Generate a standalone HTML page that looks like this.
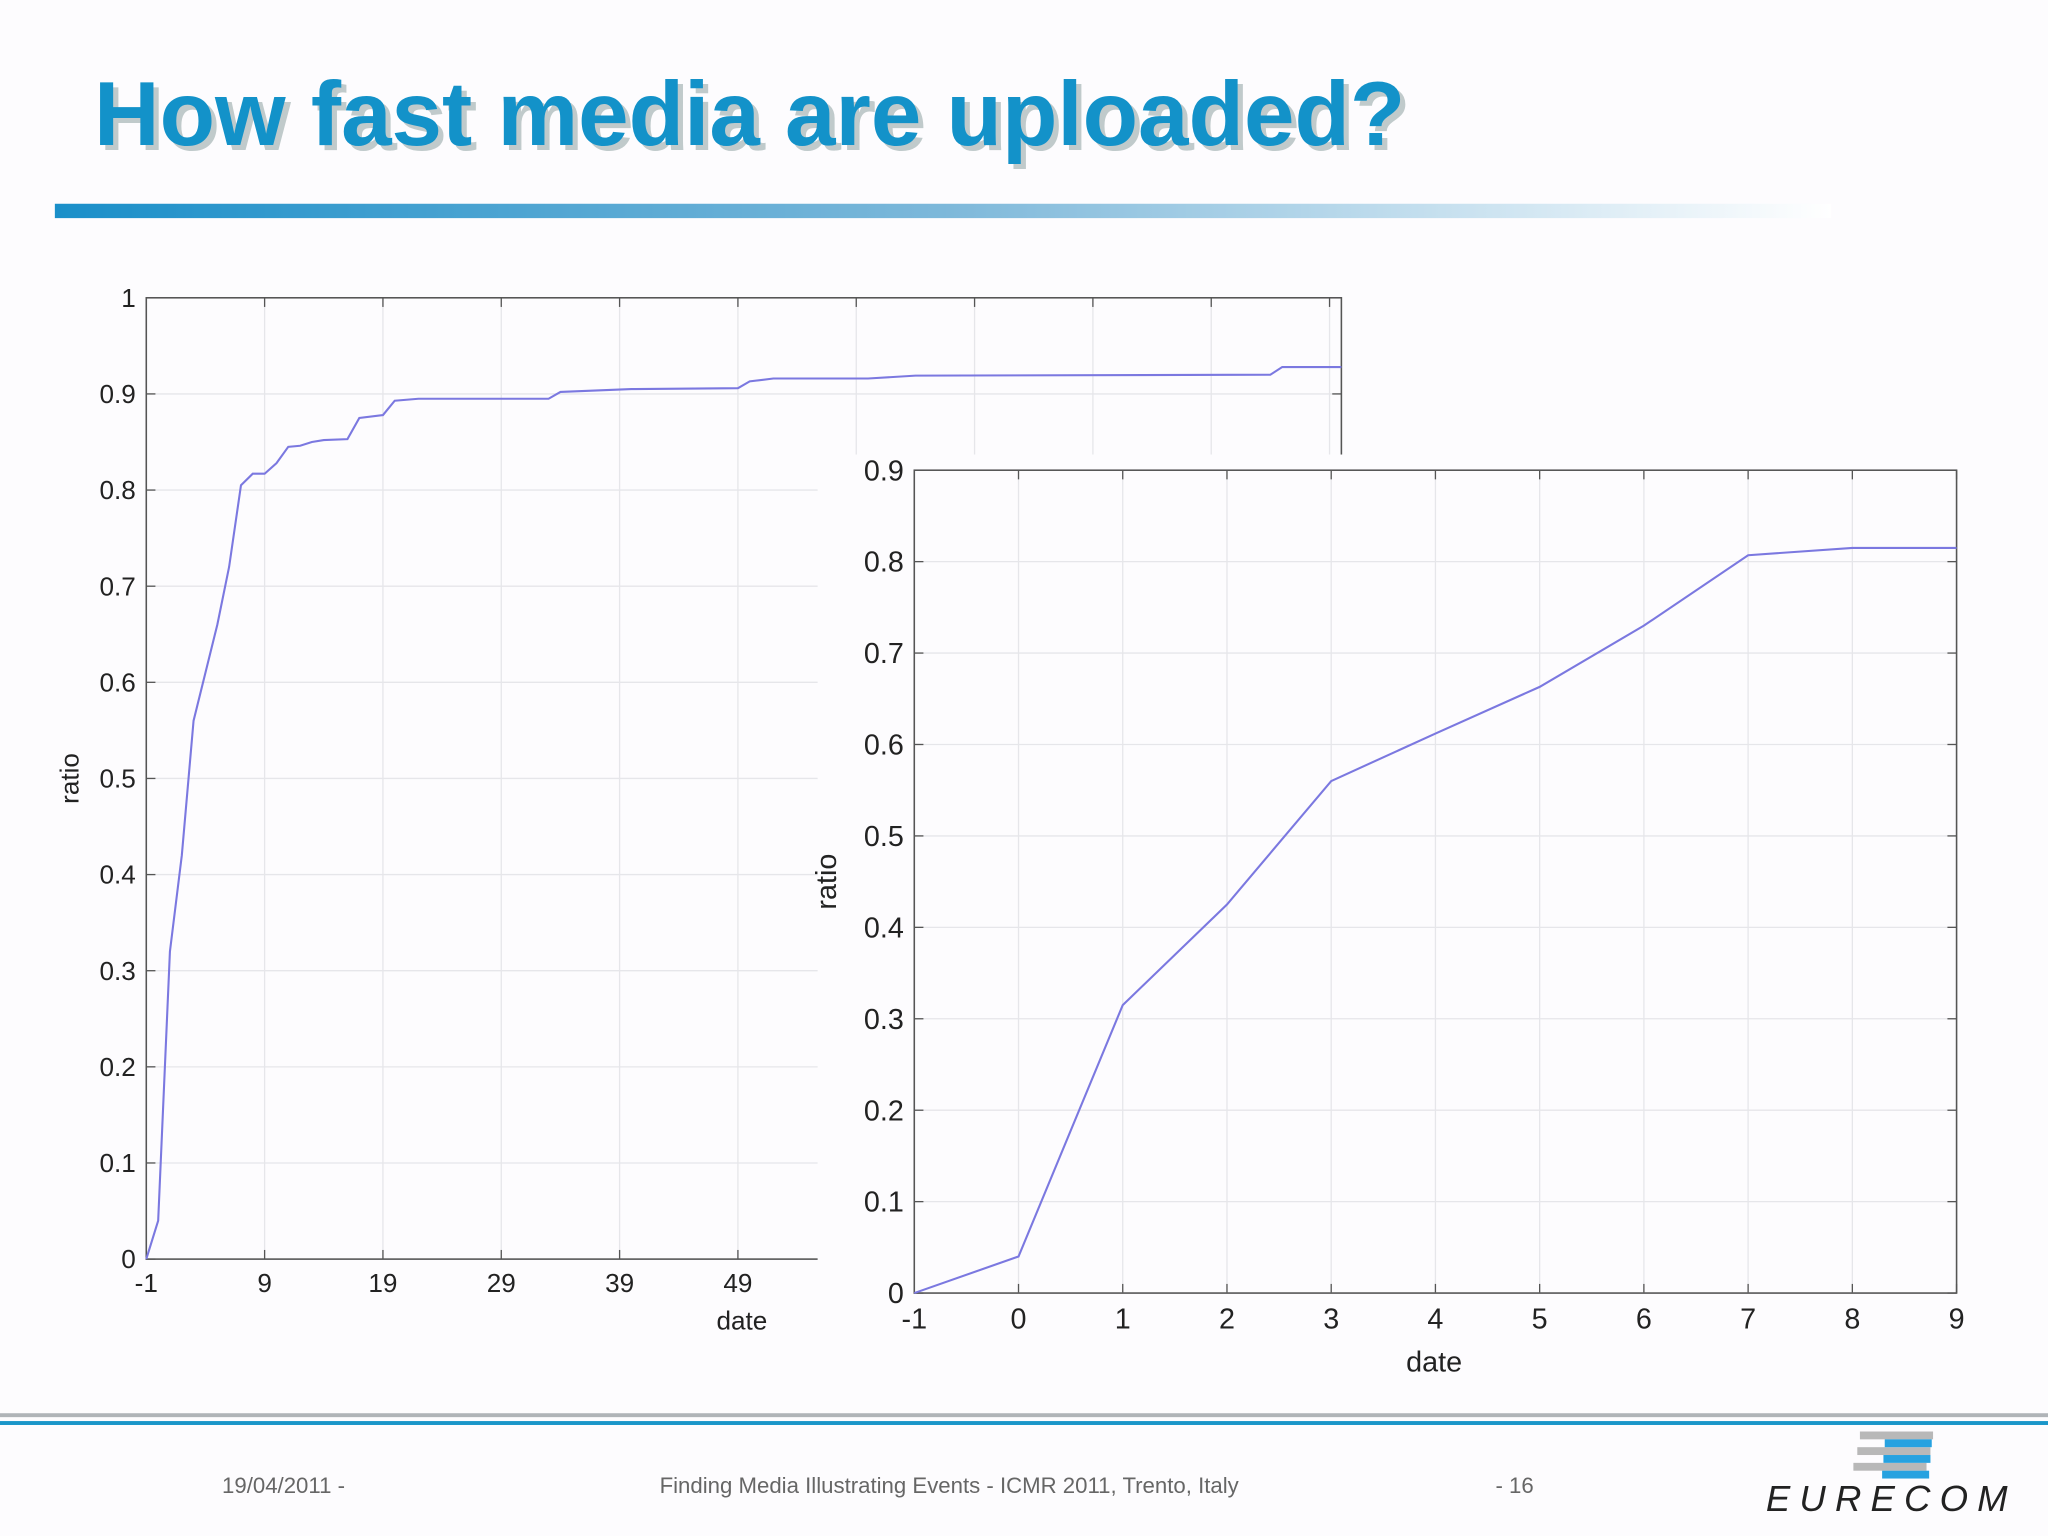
<!DOCTYPE html>
<html><head><meta charset="utf-8"><style>
html,body{margin:0;padding:0;background:#fff;}
svg{display:block;font-family:"Liberation Sans",Arial,sans-serif;}
</style></head><body>
<svg id="s" width="2048" height="1536" viewBox="0 0 1568 1176">
<defs>
<linearGradient id="g" x1="0" x2="1"><stop offset="0" stop-color="#1a8fc9"/><stop offset="0.5" stop-color="#7db8da"/><stop offset="1" stop-color="#ffffff"/></linearGradient>
</defs>
<rect width="1568" height="1176" fill="#fdfcfe"/>
<text x="76" y="115" font-size="69.5" font-weight="bold" fill="#9aa" opacity="0.6">How fast media are uploaded?</text>
<text x="72" y="111" font-size="69.5" font-weight="bold" fill="#1392c9">How fast media are uploaded?</text>
<rect x="42" y="156" width="1360" height="11" fill="url(#g)"/>
<g id="left"></g>
<rect x="626" y="348" width="942" height="712" fill="#fdfcfe"/>
<g id="right"></g>
<rect x="0" y="1082" width="1568" height="3" fill="#b0b4b8"/>
<rect x="0" y="1088" width="1568" height="3" fill="#1a96c9"/>
<g font-size="17" fill="#666">
<text x="170" y="1143">19/04/2011 -</text>
<text x="505" y="1143">Finding Media Illustrating Events - ICMR 2011, Trento, Italy</text>
<text x="1145" y="1143">- 16</text>
</g>
<g>
<rect x="1424" y="1096" width="56" height="6" fill="#b8b8b8"/><rect x="1422" y="1108" width="56" height="6" fill="#b8b8b8"/><rect x="1419" y="1120" width="56" height="6" fill="#b8b8b8"/>
<rect x="1443" y="1102" width="36" height="6" fill="#27a2e0"/><rect x="1442" y="1114" width="36" height="6" fill="#27a2e0"/><rect x="1441" y="1126" width="36" height="6" fill="#27a2e0"/>
<text x="1352" y="1157" font-size="28" font-style="italic" letter-spacing="7" fill="#222">EURECOM</text>
</g>
</svg>
<script>
const leftDays=[-1,0,1,2,3,5,6,7,8,9,10,11,12,13,14,16,17,19,20,22,33,34,40,49,50,52,60,64,94,95,100];
const leftRatio=[0,0.04,0.32,0.42,0.56,0.66,0.72,0.805,0.817,0.817,0.828,0.845,0.846,0.85,0.852,0.853,0.875,0.878,0.893,0.895,0.895,0.902,0.905,0.906,0.913,0.916,0.916,0.919,0.92,0.928,0.928];
const leftXTicks=[-1,9,19,29,39,49,59,69,79,89,99];
const leftYTicks=[0,0.1,0.2,0.3,0.4,0.5,0.6,0.7,0.8,0.9,1];
const rightDays=[-1,0,1,2,3,4,5,6,7,8,9];
const rightRatio=[0,0.04,0.315,0.425,0.56,0.612,0.663,0.73,0.807,0.815,0.815];
const rightXTicks=[-1,0,1,2,3,4,5,6,7,8,9];
const rightYTicks=[0,0.1,0.2,0.3,0.4,0.5,0.6,0.7,0.8,0.9];
const NS='http://www.w3.org/2000/svg';
function mk(p,t,a){const e=document.createElementNS(NS,t);for(const k in a)e.setAttribute(k,a[k]);p.appendChild(e);return e;}
function chart(g,o){
 const X=v=>o.x0+(v-o.xmin)/(o.xmax-o.xmin)*(o.x1-o.x0);
 const Y=v=>o.y0-(v-o.ymin)/(o.ymax-o.ymin)*(o.y0-o.y1);
 o.xt.forEach(t=>{const x=X(t);
  const l=mk(g,'line',{x1:x,x2:x,y1:o.y1,y2:o.y0,stroke:'#e6e6ea','stroke-width':1});
  
  const k=mk(g,'line',{x1:x,x2:x,y1:o.y0,y2:o.y0-7,stroke:'#555'});
  const k2=mk(g,'line',{x1:x,x2:x,y1:o.y1,y2:o.y1+7,stroke:'#555'});
  if(x<=o.labMax){const tx=mk(g,'text',{x:x,y:o.y0+o.fs+5,'font-size':o.fs,'text-anchor':'middle',fill:'#222'});tx.textContent=t;
  }
 });
 o.yt.forEach(t=>{const y=Y(t);
  const l=mk(g,'line',{x1:o.x0,x2:o.x1,y1:y,y2:y,stroke:'#e6e6ea','stroke-width':1});
  
  const k=mk(g,'line',{x1:o.x0,x2:o.x0+7,y1:y,y2:y,stroke:'#555'});
  const k2=mk(g,'line',{x1:o.x1,x2:o.x1-7,y1:y,y2:y,stroke:'#555'});
  const tx=mk(g,'text',{x:o.x0-8,y:y+o.fs*0.35,'font-size':o.fs,'text-anchor':'end',fill:'#222'});tx.textContent=t;
  
 });
 const fr=mk(g,'rect',{x:o.x0,y:o.y1,width:o.x1-o.x0,height:o.y0-o.y1,fill:'none',stroke:'#555','stroke-width':1.2});
 
 const pts=o.xs.map((d,i)=>X(d).toFixed(1)+','+Y(o.ys[i]).toFixed(1)).join(' ');
 const pl=mk(g,'polyline',{points:pts,fill:'none',stroke:'#7b78e0','stroke-width':1.6});
 
 const xl=mk(g,'text',{x:o.xlx,y:o.xly,'font-size':o.fs,'text-anchor':'middle',fill:'#222'});xl.textContent='date';
 
 const yl=mk(g,'text',{x:0,y:0,'font-size':o.fs,'text-anchor':'middle',fill:'#222',transform:`translate(${o.ylx},${(o.y0+o.y1)/2}) rotate(-90)`});yl.textContent='ratio';
 
}
chart(document.getElementById('left'),{x0:112,x1:1027,y0:964,y1:228,xmin:-1,xmax:100,ymin:0,ymax:1,xs:leftDays,ys:leftRatio,xt:leftXTicks,yt:leftYTicks,fs:20,labMax:600,xlx:568,xly:1018,ylx:60});
chart(document.getElementById('right'),{x0:700,x1:1498,y0:990,y1:360,xmin:-1,xmax:9,ymin:0,ymax:0.9,xs:rightDays,ys:rightRatio,xt:rightXTicks,yt:rightYTicks,fs:22,labMax:2000,xlx:1098,xly:1050,ylx:640});
</script>
</body></html>
